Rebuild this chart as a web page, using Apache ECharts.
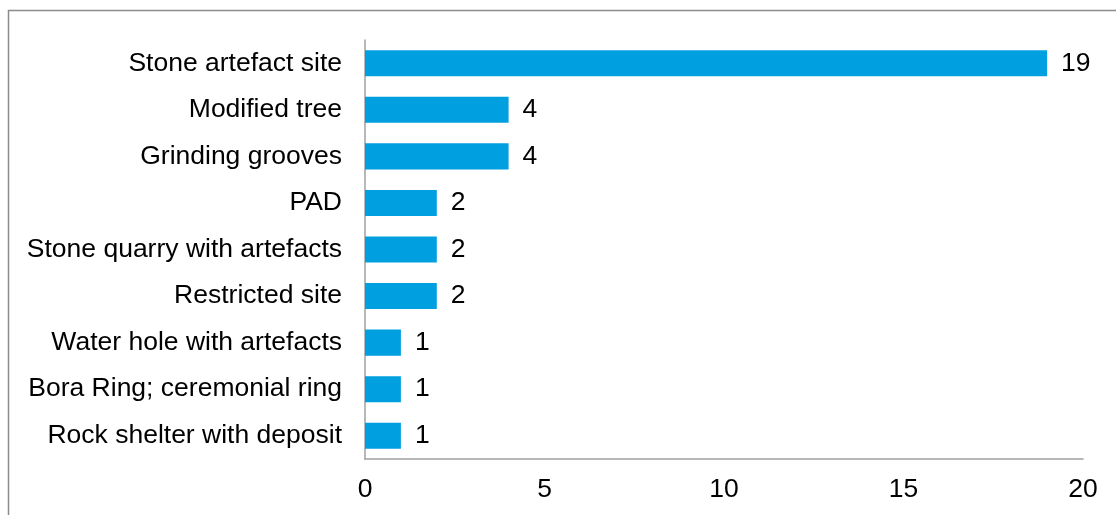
<!DOCTYPE html>
<html>
<head>
<meta charset="utf-8">
<script src="https://cdn.jsdelivr.net/npm/echarts@6/dist/echarts.min.js"></script>
<style>html,body{margin:0;padding:0;background:#fff;}#c{width:1116px;height:515px;}</style>
</head>
<body>
<div id="c"></div>
<script>
const categories = ["Stone artefact site","Modified tree","Grinding grooves","PAD","Stone quarry with artefacts","Restricted site","Water hole with artefacts","Bora Ring; ceremonial ring","Rock shelter with deposit"];
const values = [19,4,4,2,2,2,1,1,1];
const xTicks = [0,5,10,15,20];

const chart = echarts.init(document.getElementById('c'), null, {renderer:'canvas'});
const font = "'Liberation Sans', Arial, sans-serif";
chart.setOption({
  animation:false,
  backgroundColor:'#fff',
  graphic:[{type:'rect',shape:{x:8.5,y:10.5,width:1300,height:700},style:{fill:'none',stroke:'#8c8c8c',lineWidth:1.5},silent:true}],
  grid:{left:365,top:40,right:33,bottom:56,containLabel:false},
  xAxis:{type:'value',min:xTicks[0],max:xTicks[xTicks.length-1],interval:5,
    axisLine:{show:true,lineStyle:{color:'#a0a0a0',width:1.5}},
    axisTick:{show:false},splitLine:{show:false},
    axisLabel:{color:'#000',fontSize:26.5,fontFamily:font,margin:17}},
  yAxis:{type:'category',data:categories,inverse:true,
    axisLine:{show:true,lineStyle:{color:'#a0a0a0',width:1.5}},
    axisTick:{show:false},
    axisLabel:{color:'#000',fontSize:26.5,fontFamily:font,margin:23}},
  series:[{type:'bar',data:values,barCategoryGap:'44%',
    itemStyle:{color:'#009fe0'},
    label:{show:true,position:'right',distance:14,color:'#000',fontSize:26.5,fontFamily:font}}]
});
</script>
</body>
</html>
